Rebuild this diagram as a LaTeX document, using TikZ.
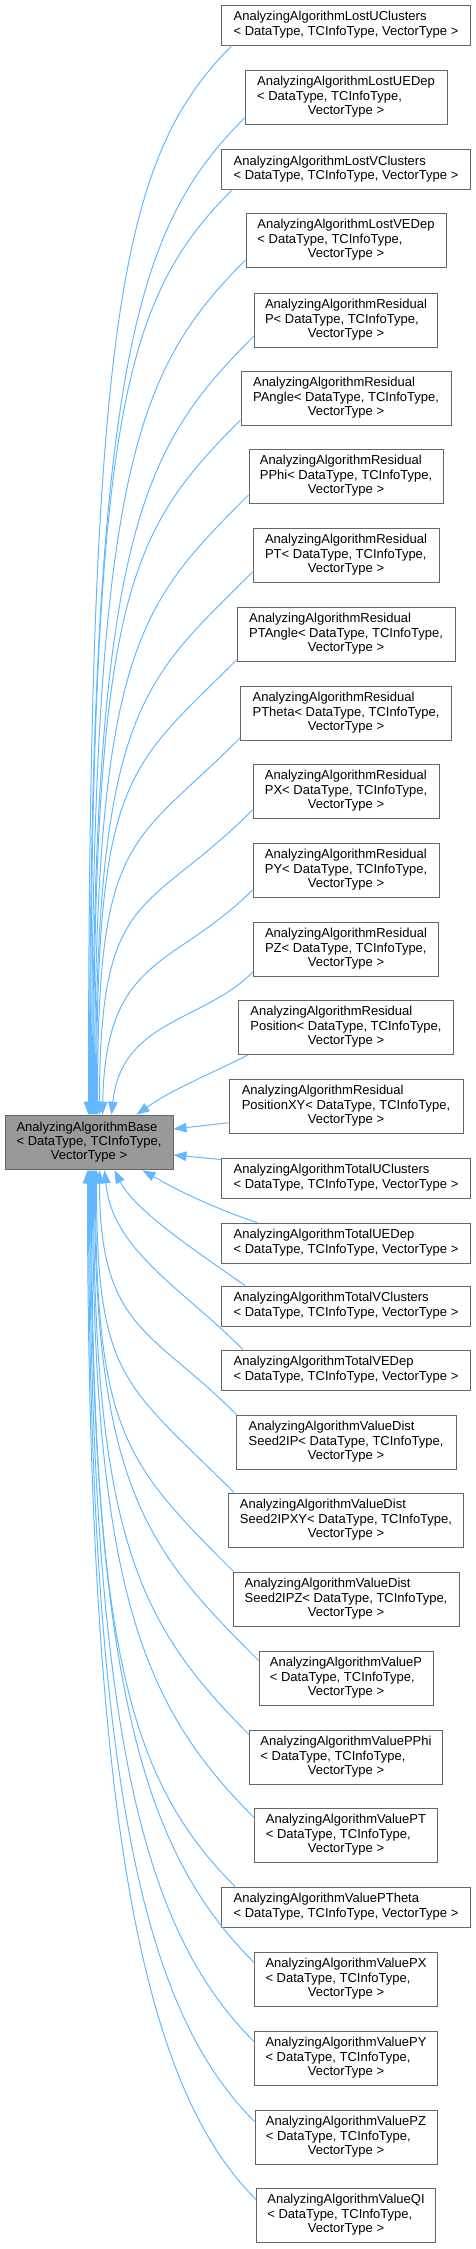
\documentclass[tikz,border=0pt]{standalone}
\usepackage{fontspec}
\setmainfont{Liberation Sans}
\usetikzlibrary{arrows.meta}
\definecolor{edgeblue}{HTML}{63B8FF}
\definecolor{boxline}{HTML}{666666}
\definecolor{basefill}{HTML}{999999}
\newcommand{\twoline}[2]{\begin{tabular}{@{}l@{}}#1\\#2\end{tabular}}
\newcommand{\threeline}[3]{\begin{tabular}{@{}l@{}}#1\\#2\\\multicolumn{1}{@{}c@{}}{#3}\end{tabular}}
\tikzset{
  cls/.style={draw=boxline, fill=white, line width=1pt, inner sep=0pt,
    font=\fontsize{13}{14.3}\selectfont},
  two/.style={cls, minimum height=40pt},
  three/.style={cls, minimum height=54.5pt},
  inh/.style={draw=edgeblue, line width=1pt, -{Triangle[length=13pt,width=9.5pt]}}
}
\begin{document}
\begin{tikzpicture}[x=1pt,y=-1pt]
\useasboundingbox (0,0) rectangle (476,2249);
\node[three, fill=basefill, minimum width=168pt] (base) at (89,1142.5) {\threeline{AnalyzingAlgorithmBase}{< DataType, TCInfoType,}{VectorType >}};
\node[two, minimum width=249pt] (n1) at (346,25) {\twoline{AnalyzingAlgorithmLostUClusters}{< DataType, TCInfoType, VectorType >}};
\node[three, minimum width=202pt] (n2) at (346,97.25) {\threeline{AnalyzingAlgorithmLostUEDep}{< DataType, TCInfoType,}{VectorType >}};
\node[two, minimum width=249pt] (n3) at (346,169.5) {\twoline{AnalyzingAlgorithmLostVClusters}{< DataType, TCInfoType, VectorType >}};
\node[three, minimum width=200pt] (n4) at (346,240.25) {\threeline{AnalyzingAlgorithmLostVEDep}{< DataType, TCInfoType,}{VectorType >}};
\node[three, minimum width=183pt] (n5) at (346,320.25) {\threeline{AnalyzingAlgorithmResidual}{P< DataType, TCInfoType,}{VectorType >}};
\node[three, minimum width=210pt] (n6) at (346,398.25) {\threeline{AnalyzingAlgorithmResidual}{PAngle< DataType, TCInfoType,}{VectorType >}};
\node[three, minimum width=194pt] (n7) at (346,476.25) {\threeline{AnalyzingAlgorithmResidual}{PPhi< DataType, TCInfoType,}{VectorType >}};
\node[three, minimum width=186pt] (n8) at (346,555.25) {\threeline{AnalyzingAlgorithmResidual}{PT< DataType, TCInfoType,}{VectorType >}};
\node[three, minimum width=218pt] (n9) at (346,634.25) {\threeline{AnalyzingAlgorithmResidual}{PTAngle< DataType, TCInfoType,}{VectorType >}};
\node[three, minimum width=211pt] (n10) at (346,713.25) {\threeline{AnalyzingAlgorithmResidual}{PTheta< DataType, TCInfoType,}{VectorType >}};
\node[three, minimum width=186pt] (n11) at (346,791.25) {\threeline{AnalyzingAlgorithmResidual}{PX< DataType, TCInfoType,}{VectorType >}};
\node[three, minimum width=186pt] (n12) at (346,870.25) {\threeline{AnalyzingAlgorithmResidual}{PY< DataType, TCInfoType,}{VectorType >}};
\node[three, minimum width=185pt] (n13) at (346,949.25) {\threeline{AnalyzingAlgorithmResidual}{PZ< DataType, TCInfoType,}{VectorType >}};
\node[three, minimum width=215pt] (n14) at (346,1027.25) {\threeline{AnalyzingAlgorithmResidual}{Position< DataType, TCInfoType,}{VectorType >}};
\node[three, minimum width=234pt] (n15) at (346,1106.25) {\threeline{AnalyzingAlgorithmResidual}{PositionXY< DataType, TCInfoType,}{VectorType >}};
\node[two, minimum width=249pt] (n16) at (346,1178) {\twoline{AnalyzingAlgorithmTotalUClusters}{< DataType, TCInfoType, VectorType >}};
\node[two, minimum width=249pt] (n17) at (346,1243) {\twoline{AnalyzingAlgorithmTotalUEDep}{< DataType, TCInfoType, VectorType >}};
\node[two, minimum width=249pt] (n18) at (346,1306) {\twoline{AnalyzingAlgorithmTotalVClusters}{< DataType, TCInfoType, VectorType >}};
\node[two, minimum width=249pt] (n19) at (346,1370) {\twoline{AnalyzingAlgorithmTotalVEDep}{< DataType, TCInfoType, VectorType >}};
\node[three, minimum width=220pt] (n20) at (346,1442.25) {\threeline{AnalyzingAlgorithmValueDist}{Seed2IP< DataType, TCInfoType,}{VectorType >}};
\node[three, minimum width=235pt] (n21) at (346,1520.25) {\threeline{AnalyzingAlgorithmValueDist}{Seed2IPXY< DataType, TCInfoType,}{VectorType >}};
\node[three, minimum width=226pt] (n22) at (346,1599.25) {\threeline{AnalyzingAlgorithmValueDist}{Seed2IPZ< DataType, TCInfoType,}{VectorType >}};
\node[three, minimum width=174pt] (n23) at (346,1678.25) {\threeline{AnalyzingAlgorithmValueP}{< DataType, TCInfoType,}{VectorType >}};
\node[three, minimum width=193pt] (n24) at (346,1757.25) {\threeline{AnalyzingAlgorithmValuePPhi}{< DataType, TCInfoType,}{VectorType >}};
\node[three, minimum width=183pt] (n25) at (346,1835.25) {\threeline{AnalyzingAlgorithmValuePT}{< DataType, TCInfoType,}{VectorType >}};
\node[two, minimum width=249pt] (n26) at (346,1907) {\twoline{AnalyzingAlgorithmValuePTheta}{< DataType, TCInfoType, VectorType >}};
\node[three, minimum width=183pt] (n27) at (346,1979.25) {\threeline{AnalyzingAlgorithmValuePX}{< DataType, TCInfoType,}{VectorType >}};
\node[three, minimum width=183pt] (n28) at (346,2058.25) {\threeline{AnalyzingAlgorithmValuePY}{< DataType, TCInfoType,}{VectorType >}};
\node[three, minimum width=182pt] (n29) at (346,2137.25) {\threeline{AnalyzingAlgorithmValuePZ}{< DataType, TCInfoType,}{VectorType >}};
\node[three, minimum width=179pt] (n30) at (346,2215.25) {\threeline{AnalyzingAlgorithmValueQI}{< DataType, TCInfoType,}{VectorType >}};
% upper edges
\draw[inh] ([xshift=11pt]n1.south west) .. controls +(-110,110) and +(0,-802) .. ([xshift=84pt]base.north west);
\draw[inh] ([yshift=7pt]n2.south west) .. controls +(-110,110) and +(0,-748) .. ([xshift=85pt]base.north west);
\draw[inh] ([xshift=11pt]n3.south west) .. controls +(-110,110) and +(0,-694) .. ([xshift=86pt]base.north west);
\draw[inh] ([yshift=8pt]n4.south west) .. controls +(-110,110) and +(0,-641) .. ([xshift=87pt]base.north west);
\draw[inh] ([yshift=12pt]n5.south west) .. controls +(-110,110) and +(0,-585) .. ([xshift=88pt]base.north west);
\draw[inh] ([yshift=6pt]n6.south west) .. controls +(-110,110) and +(0,-521) .. ([xshift=89pt]base.north west);
\draw[inh] ([yshift=9pt]n7.south west) .. controls +(-110,110) and +(0,-465) .. ([xshift=90pt]base.north west);
\draw[inh] ([yshift=11pt]n8.south west) .. controls +(-110,110) and +(0,-407) .. ([xshift=91pt]base.north west);
\draw[inh] ([yshift=2pt]n9.south west) .. controls +(-110,110) and +(0,-341) .. ([xshift=92pt]base.north west);
\draw[inh] ([yshift=3pt]n10.south west) .. controls +(-110,110) and +(0,-283) .. ([xshift=93pt]base.north west);
\draw[inh] ([yshift=9pt]n11.south west) .. controls +(-107,107) and +(0,-229) .. ([xshift=95pt]base.north west);
\draw[inh] ([yshift=8pt]n12.south west) .. controls +(-79,79) and +(3,-160) .. ([xshift=98pt]base.north west);
\draw[inh] ([yshift=5pt]n13.south west) .. controls +(-50,50) and +(10,-95) .. ([xshift=107pt]base.north west);
\draw[inh] ([xshift=10pt]n14.south west) .. controls +(-40,20) and +(35,-25) .. ([xshift=132pt]base.north west);
\draw[inh] ([yshift=-16.5pt]n15.west) -- ([yshift=13.5pt]base.east);
\draw[inh] ([yshift=-2pt]n16.north west) -- ([yshift=-12.5pt]base.east);
% lower edges
\draw[inh] ([xshift=36pt]n17.north west) .. controls +(-45,-15) and +(35,20) .. ([xshift=138pt]base.south west);
\draw[inh] ([xshift=24pt]n18.north west) .. controls +(-50,-35) and +(20,40) .. ([xshift=110pt]base.south west);
\draw[inh] ([xshift=22pt]n19.north west) .. controls +(-63,-63) and +(8,80) .. ([xshift=100pt]base.south west);
\draw[inh] ([xshift=1pt]n20.north west) .. controls +(-86,-86) and +(0,159) .. ([xshift=95pt]base.south west);
\draw[inh] ([xshift=6pt]n21.north west) .. controls +(-110,-110) and +(0,210) .. ([xshift=92pt]base.south west);
\draw[inh] ([xshift=1pt]n22.north west) .. controls +(-110,-110) and +(0,261) .. ([xshift=91pt]base.south west);
\draw[inh] ([yshift=-10pt]n23.north west) .. controls +(-110,-110) and +(0,319) .. ([xshift=90pt]base.south west);
\draw[inh] ([yshift=-5pt]n24.north west) .. controls +(-110,-110) and +(0,367) .. ([xshift=89pt]base.south west);
\draw[inh] ([yshift=-10pt]n25.north west) .. controls +(-110,-110) and +(0,421) .. ([xshift=88pt]base.south west);
\draw[inh] ([xshift=14pt]n26.north west) .. controls +(-110,-110) and +(0,466) .. ([xshift=87pt]base.south west);
\draw[inh] ([yshift=-11pt]n27.north west) .. controls +(-110,-110) and +(0,515) .. ([xshift=86pt]base.south west);
\draw[inh] ([yshift=-11pt]n28.north west) .. controls +(-110,-110) and +(0,567) .. ([xshift=85pt]base.south west);
\draw[inh] ([yshift=-12pt]n29.north west) .. controls +(-110,-110) and +(0,619) .. ([xshift=84pt]base.south west);
\draw[inh] ([yshift=-12pt]n30.north west) .. controls +(-110,-110) and +(0,670) .. ([xshift=83pt]base.south west);
\end{tikzpicture}
\end{document}
